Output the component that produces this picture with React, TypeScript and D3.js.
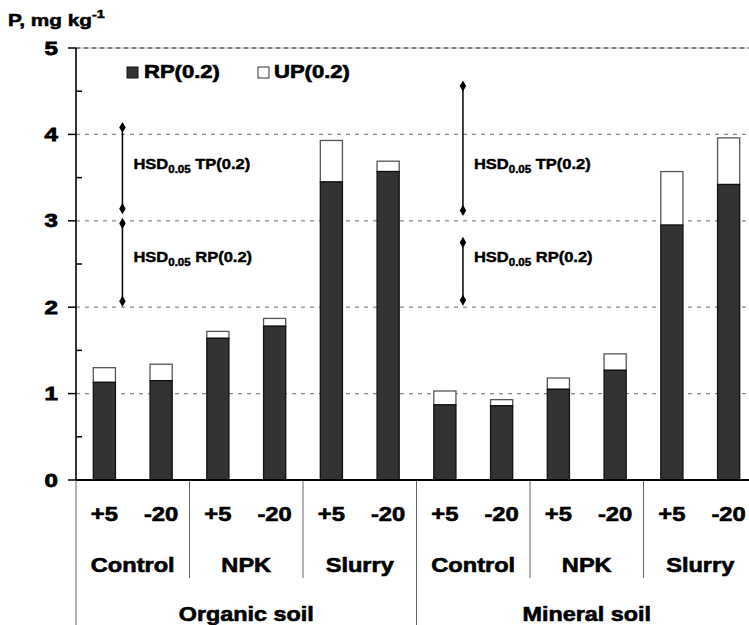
import React from "react";
import * as d3 from "d3";

const soils = ["Organic soil", "Mineral soil"];
const treatments = ["Control", "NPK", "Slurry"];
const temps = ["+5", "-20"];
// RP(0.2) and UP(0.2) stacked, in bar order: soil > treatment > temperature
const rpValues = [1.13, 1.15, 1.64, 1.78, 3.45, 3.57, 0.87, 0.86, 1.05, 1.27, 2.95, 3.42];
const upValues = [0.17, 0.19, 0.08, 0.09, 0.48, 0.12, 0.16, 0.07, 0.13, 0.19, 0.62, 0.54];
const yTicks = [0, 1, 2, 3, 4, 5];
const hsdNames = ["TP(0.2)", "RP(0.2)"];
// HSD whiskers [low, high] for each soil, TP first then RP
const hsdRanges = [
  [[3.14, 4.08], [2.07, 2.97]],
  [[3.12, 4.56], [2.08, 2.75]],
];
const hsdLabelAt = [3.6, 2.52];

const width = 749;
const height = 625;
const marginLeft = 76;
const plotRight = 757;
const yTop = 48;
const yZero = 480;
const font = "'Liberation Sans', Arial, sans-serif";

interface Bar {
  id: string;
  soil: number;
  treat: number;
  temp: string;
  rp: number;
  up: number;
}

const bars: Bar[] = [];
soils.forEach((s, si) =>
  treatments.forEach((t, ti) =>
    temps.forEach((tp, k) => {
      const i = si * 6 + ti * 2 + k;
      bars.push({ id: `${si}-${ti}-${k}`, soil: si, treat: ti, temp: tp, rp: rpValues[i], up: upValues[i] });
    })
  )
);

const x = d3
  .scaleBand()
  .domain(bars.map((d) => d.id))
  .range([marginLeft, plotRight])
  .paddingInner(0.61)
  .paddingOuter(0.305);
const step = x.step();
const bw = x.bandwidth();

const y = d3.scaleLinear().domain([0, 5]).range([yZero, yTop]);
const minorTicks = d3.range(0.5, 5, 1);
const diamond = d3.symbol(d3.symbolDiamond, 36)() as string;

// bold text, widened like the original figure
const T = ({
  x: tx,
  y: ty,
  size,
  sx = 1.22,
  anchor = "middle",
  heavy = 0.6,
  children,
  dy,
}: {
  x: number;
  y: number;
  size: number;
  sx?: number;
  anchor?: string;
  heavy?: number;
  dy?: string;
  children: React.ReactNode;
}) => (
  <text
    transform={`translate(${tx},${ty}) scale(${sx},1)`}
    fontSize={size}
    fontWeight="bold"
    fontFamily={font}
    textAnchor={anchor}
    stroke="#000"
    strokeWidth={heavy}
    dy={dy}
  >
    {children}
  </text>
);

const App = () => {
  const boundary = (k: number) => marginLeft + k * step;
  return (
    <svg
      width={width}
      height={height}
      style={{ position: "absolute", left: 0, top: 0, background: "#fff" }}
    >
      {/* gridlines */}
      {yTicks
        .filter((t) => t > 0 && t < 5)
        .map((t) => (
          <line
            key={t}
            x1={marginLeft}
            x2={width}
            y1={y(t)}
            y2={y(t)}
            stroke="#888"
            strokeWidth={1.2}
            strokeDasharray="4,5"
          />
        ))}
      <line x1={marginLeft} x2={width} y1={y(5)} y2={y(5)} stroke="#c8c8c8" strokeWidth={1.5} />
      <line x1={marginLeft} x2={width} y1={y(5)} y2={y(5)} stroke="#333" strokeWidth={1.2} strokeDasharray="4,4" />

      {/* bars */}
      {bars.map((d) => (
        <g key={d.id}>
          <rect
            x={x(d.id)}
            y={y(d.rp + d.up)}
            width={bw}
            height={y(d.rp) - y(d.rp + d.up)}
            fill="#fff"
            stroke="#555"
            strokeWidth={1.3}
          />
          <rect
            x={x(d.id)}
            y={y(d.rp)}
            width={bw}
            height={y(0) - y(d.rp)}
            fill="#333"
            stroke="#111"
            strokeWidth={1.3}
          />
        </g>
      ))}

      {/* HSD whiskers */}
      {hsdRanges.map((ranges, si) => {
        const wx = (x(bars[si * 6].id) as number) + bw + 7;
        return (
          <g key={si}>
            {ranges.map(([lo, hi], j) => (
              <g key={j}>
                <line x1={wx} x2={wx} y1={y(lo)} y2={y(hi)} stroke="#000" strokeWidth={1.5} />
                <path d={diamond} transform={`translate(${wx},${y(lo)})`} fill="#000" />
                <path d={diamond} transform={`translate(${wx},${y(hi)})`} fill="#000" />
                <T x={wx + 11} y={y(hsdLabelAt[j])} size={15} sx={1.1} anchor="start" heavy={0.45}>
                  HSD
                  <tspan fontSize={10.5} dy={4}>
                    0.05
                  </tspan>
                  <tspan dy={-4}>{" " + hsdNames[j]}</tspan>
                </T>
              </g>
            ))}
          </g>
        );
      })}

      {/* legend */}
      <rect x={127} y={67} width={11} height={11} fill="#333" stroke="#111" />
      <T x={144} y={78} size={17.5} sx={1.26} anchor="start">
        RP(0.2)
      </T>
      <rect x={258} y={67} width={11} height={11} fill="#fff" stroke="#333" />
      <T x={274} y={78} size={17.5} sx={1.26} anchor="start">
        UP(0.2)
      </T>

      {/* y axis */}
      <line x1={marginLeft} x2={marginLeft} y1={yTop} y2={yZero} stroke="#000" strokeWidth={1.6} />
      {yTicks.map((t) => (
        <g key={t}>
          <line x1={marginLeft - 8} x2={marginLeft} y1={y(t)} y2={y(t)} stroke="#000" strokeWidth={1.5} />
          <T x={58} y={y(t)} size={18.5} sx={1.3} anchor="end" dy="0.36em" heavy={0.8}>
            {t}
          </T>
        </g>
      ))}
      {minorTicks.map((t) => (
        <line key={t} x1={marginLeft} x2={marginLeft + 6} y1={y(t)} y2={y(t)} stroke="#000" strokeWidth={1.5} />
      ))}
      <T x={8} y={26} size={16} sx={1.3} anchor="start" heavy={0.5}>
        P, mg kg
        <tspan fontSize={11} dy={-8}>
          -1
        </tspan>
      </T>

      {/* category axis */}
      {[1, 2, 4, 5].map((g) => (
        <line key={g} x1={boundary(g * 2)} x2={boundary(g * 2)} y1={yZero} y2={578} stroke="#666" strokeWidth={1} />
      ))}
      {[0, 3].map((g) => (
        <line key={g} x1={boundary(g * 2)} x2={boundary(g * 2)} y1={yZero} y2={height} stroke="#666" strokeWidth={1} />
      ))}
      <line x1={marginLeft} x2={width} y1={yZero} y2={yZero} stroke="#000" strokeWidth={2.2} />
      {bars.map((d) => (
        <T key={d.id} x={(x(d.id) as number) + bw / 2} y={521} size={19.5}>
          {d.temp}
        </T>
      ))}
      {soils.map((s, si) =>
        treatments.map((t, ti) => (
          <T key={`${si}-${ti}`} x={boundary(si * 6 + ti * 2 + 1)} y={572} size={20} sx={1.18}>
            {t}
          </T>
        ))
      )}
      {soils.map((s, si) => (
        <T key={s} x={boundary(si * 6 + 3)} y={621} size={20} sx={1.17}>
          {s}
        </T>
      ))}
    </svg>
  );
};

export default App;
